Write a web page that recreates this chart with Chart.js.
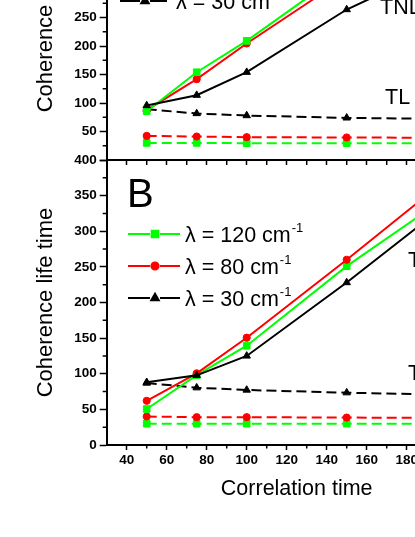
<!DOCTYPE html>
<html>
<head>
<meta charset="utf-8">
<script src="https://cdn.jsdelivr.net/npm/chart.js@4.4.1/dist/chart.umd.min.js"></script>
<style>
  html, body { margin: 0; padding: 0; background: #fff; overflow: hidden; width: 415px; height: 537px; }
  body { position: relative; }
  canvas { position: absolute; left: 0; }
  #panelA { top: -150px; }
  #panelB { top: 140px; }
</style>
</head>
<body>
<canvas id="panelA" width="520" height="330"></canvas>
<canvas id="panelB" width="520" height="397"></canvas>
<script>
// x values (correlation time) shared by every series
const correlationTime = [50, 75, 100, 150, 200];

// legend labels, in the order they appear (top to bottom)
const lambdaLabels = ['λ = 120 cm', 'λ = 80 cm', 'λ = 30 cm'];

// panel A (top, only partly visible)
const aTnl120 = [85.6, 154, 209, 334, 460];
const aTnl80 = [87.4, 141.8, 204.4, 321, 440];
const aTnl30 = [95.6, 113.7, 154, 264, 346];
const aTl120 = [30, 30, 29.5, 29.5, 29.5];
const aTl80 = [42.3, 41.2, 40, 39.5, 39];
const aTl30 = [89, 81.6, 78, 73.9, 72];

// panel B
const bTnl120 = [50.5, 98, 139.4, 251, 348];
const bTnl80 = [62, 100.6, 150.6, 260, 373];
const bTnl30 = [88, 97.8, 125, 228, 338];
const bTl120 = [30, 30, 30, 30, 30];
const bTl80 = [40, 39, 39, 38.5, 38];
const bTl30 = [87, 80.4, 77.2, 73.4, 70.5];

const FONT = '"Liberation Sans", Arial, sans-serif';
const GREEN = '#00ff00', RED = '#ff0000', BLACK = '#000000';
const markerRadius = { rect: 4.7, circle: 3.6, triangle: 4.3 };

function series(label, values, color, style, dashed) {
  return {
    label: label,
    data: correlationTime.map((t, i) => ({ x: t, y: values[i] })),
    borderColor: color,
    backgroundColor: color,
    borderWidth: 2,
    borderDash: dashed ? [10, 5] : [],
    pointStyle: style,
    pointRadius: markerRadius[style],
    pointBorderWidth: 1,
    tension: 0,
    fill: false
  };
}

// small outward minor ticks between the labelled ones
const minorTicks = {
  id: 'minorTicks',
  afterDraw(chart, args, opts) {
    const { ctx, chartArea, scales } = chart;
    ctx.save();
    ctx.strokeStyle = '#000';
    ctx.lineWidth = 1.5;
    ctx.beginPath();
    for (let v = scales.x.min + 10; v < scales.x.max; v += 10) {
      if (v % 20 === 0) continue;
      const px = scales.x.getPixelForValue(v);
      ctx.moveTo(px, chartArea.bottom);
      ctx.lineTo(px, chartArea.bottom + opts.xLen);
    }
    for (let v = scales.y.min + 25; v < scales.y.max; v += 25) {
      if (v % 50 === 0) continue;
      const py = scales.y.getPixelForValue(v);
      ctx.moveTo(chartArea.left, py);
      ctx.lineTo(chartArea.left - opts.yLen, py);
    }
    ctx.stroke();
    ctx.restore();
  }
};

// panel letter, hand-made legend and the TNL / TL notes
const panelText = {
  id: 'panelText',
  afterDraw(chart, args, opts) {
    const ctx = chart.ctx;
    ctx.save();
    ctx.fillStyle = '#000';
    ctx.textAlign = 'left';
    ctx.textBaseline = 'alphabetic';

    ctx.font = '40px ' + FONT;
    ctx.fillText(opts.letter, opts.letterX, opts.letterY);

    const colors = [GREEN, RED, BLACK];
    const styles = ['rect', 'circle', 'triangle'];
    lambdaLabels.forEach((lbl, i) => {
      const y = opts.legendY + i * 32;
      ctx.strokeStyle = colors[i];
      ctx.lineWidth = 2;
      ctx.beginPath();
      ctx.moveTo(opts.lineX0, y);
      ctx.lineTo(opts.markX - 5, y);
      ctx.moveTo(opts.markX + 5, y);
      ctx.lineTo(opts.lineX1, y);
      ctx.stroke();
      ctx.fillStyle = colors[i];
      Chart.helpers.drawPoint(ctx, {
        pointStyle: styles[i], radius: markerRadius[styles[i]], rotation: 0, borderWidth: 1
      }, opts.markX, y);
      ctx.fillStyle = '#000';
      ctx.font = '21.5px ' + FONT;
      ctx.fillText(lbl, opts.textX, y + 7.5);
      const w = ctx.measureText(lbl).width;
      ctx.font = '13px ' + FONT;
      ctx.fillText('-1', opts.textX + w + 1, y - 2);
    });

    ctx.font = '21.5px ' + FONT;
    ctx.fillText('TNL', opts.tnlX, opts.tnlY);
    ctx.fillText('TL', opts.tlX, opts.tlY);
    ctx.restore();
  }
};

function makeChart(id, datasets, yMax, cfg) {
  return new Chart(document.getElementById(id), {
    type: 'line',
    data: { datasets: datasets },
    options: {
      responsive: false,
      animation: false,
      devicePixelRatio: 1,
      layout: { padding: { top: cfg.padTop, right: 33.3, left: 0, bottom: 0 } },
      plugins: {
        legend: { display: false },
        tooltip: { enabled: false },
        minorTicks: { xLen: cfg.xMinorLen, yLen: 4 },
        panelText: cfg.text
      },
      scales: {
        x: {
          type: 'linear',
          min: 30,
          max: 220,
          border: { display: true, color: '#000', width: 2 },
          grid: { drawOnChartArea: false, drawTicks: true, tickLength: cfg.xTickLen, tickWidth: 1.5, tickColor: '#000' },
          ticks: {
            stepSize: 20,
            includeBounds: false,
            padding: 2,
            color: '#000',
            font: { family: FONT, size: 13.5, weight: 'bold' },
            callback: v => cfg.xLabels ? v : ''
          },
          title: {
            display: cfg.xLabels,
            text: 'Correlation time',
            color: '#000',
            font: { family: FONT, size: 21.5 },
            padding: { top: 0, bottom: 35.5 }
          },
          afterFit: s => { s.height = cfg.xHeight; }
        },
        y: {
          type: 'linear',
          min: 0,
          max: yMax,
          border: { display: true, color: '#000', width: 2 },
          grid: { drawOnChartArea: false, drawTicks: true, tickLength: 7, tickWidth: 1.5, tickColor: '#000' },
          ticks: {
            stepSize: 50,
            padding: 3,
            color: '#000',
            font: { family: FONT, size: 13.5, weight: 'bold' },
            callback: v => (cfg.hideZero && v === 0) ? '' : v
          },
          title: {
            display: true,
            text: 'Coherence life time',
            color: '#000',
            font: { family: FONT, size: 22 },
            padding: { top: 33, bottom: 0 }
          },
          afterFit: s => { s.width = 106.7; }
        }
      }
    },
    plugins: [minorTicks, panelText]
  });
}

// panel A: canvas top sits 150px above the page
makeChart('panelA', [
  series('TNL 30', aTnl30, BLACK, 'triangle', false),
  series('TNL 120', aTnl120, GREEN, 'rect', false),
  series('TNL 80', aTnl80, RED, 'circle', false),
  series('TL 30', aTl30, BLACK, 'triangle', true),
  series('TL 80', aTl80, RED, 'circle', true),
  series('TL 120', aTl120, GREEN, 'rect', true)
], 500, {
  padTop: 25, xHeight: 20, xTickLen: 5, xMinorLen: 5, xLabels: false, hideZero: true,
  text: {
    letter: 'A', letterX: 127, letterY: 72,
    legendY: 87, lineX0: 120, lineX1: 167, markX: 145, textX: 176,
    tnlX: 380, tnlY: 164, tlX: 385, tlY: 253.5
  }
});

// panel B: canvas top at 140px
makeChart('panelB', [
  series('TNL 30', bTnl30, BLACK, 'triangle', false),
  series('TNL 80', bTnl80, RED, 'circle', false),
  series('TNL 120', bTnl120, GREEN, 'rect', false),
  series('TL 30', bTl30, BLACK, 'triangle', true),
  series('TL 80', bTl80, RED, 'circle', true),
  series('TL 120', bTl120, GREEN, 'rect', true)
], 400, {
  padTop: 20, xHeight: 92, xTickLen: 5, xMinorLen: 3.5, xLabels: true, hideZero: false,
  text: {
    letter: 'B', letterX: 127, letterY: 67,
    legendY: 94, lineX0: 128, lineX1: 180, markX: 155, textX: 185,
    tnlX: 408, tnlY: 127, tlX: 408, tlY: 240
  }
});
</script>
</body>
</html>
